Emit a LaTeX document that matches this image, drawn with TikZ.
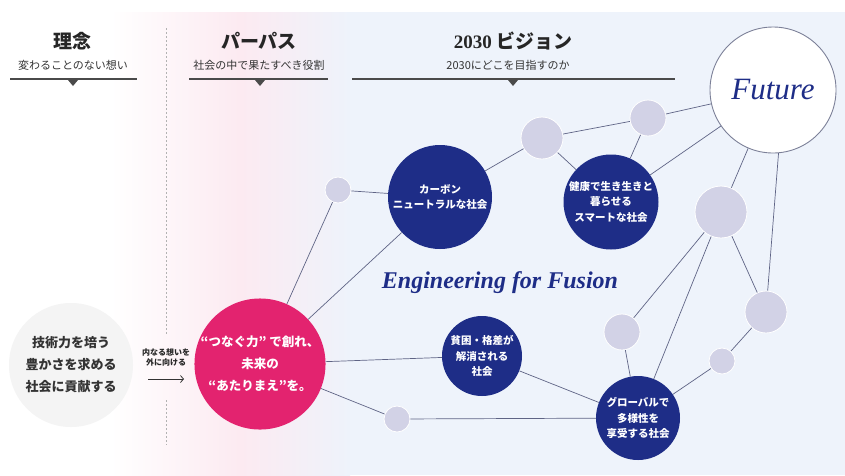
\documentclass[tikz,border=0pt]{standalone}
\usepackage{fontspec}
\setmainfont{Liberation Serif}
\newfontfamily\jp{Noto Sans CJK JP}
\usetikzlibrary{arrows.meta}
\definecolor{navy}{HTML}{1E2D87}
\definecolor{mag}{HTML}{E3236F}
\definecolor{lav}{HTML}{D2D2E6}
\definecolor{edge}{HTML}{5F6485}
\definecolor{bgblue}{HTML}{EEF3FB}
\definecolor{bgpink}{HTML}{FCEAF1}
\definecolor{hdr}{HTML}{4A4A4A}
\definecolor{futedge}{HTML}{7C8098}
\definecolor{lefty}{HTML}{F4F4F4}
\begin{document}
\begin{tikzpicture}[x=1pt,y=-1pt,
  link/.style={draw=edge, line width=0.7pt},
  dot/.style={circle, fill=lav, draw=white, line width=0.8pt, inner sep=0pt, minimum size=#1},
  goal/.style={circle, fill=navy, text=white, inner sep=0pt, minimum size=#1, align=center, font=\jp\bfseries\fontsize{10.5}{15.5}\selectfont},
  title/.style={font=\jp\bfseries\fontsize{19}{22}\selectfont, text=black!85},
  sub/.style={font=\jp\fontsize{11}{13}\selectfont, text=black!80},
  bar/.style={draw=hdr, line width=1.8pt},
  tri/.style={fill=hdr}
]
\useasboundingbox (0,0) rectangle (845,475);
% background
\fill[white] (0,0) rectangle (845,475);
\fill[bgblue] (350,12) rectangle (845,475);
\shade[left color=white, right color=bgpink] (110,12) rectangle (240,475);
\shade[left color=bgpink, right color=bgblue] (240,12) rectangle (350,475);
% dotted divider
\draw[black!30, line width=0.8pt, dash pattern=on 2pt off 2pt] (166,28) -- (166,335);
\draw[black!30, line width=0.8pt, dash pattern=on 2pt off 2pt] (166,400) -- (166,445);
% headers
\node[title] (t1) at (72,41) {理念};
\node[sub] (s1) at (73,65) {変わることのない想い};
\draw[bar] (10,79) -- (137,79);
\fill[tri] (68,80) -- (78,80) -- (73,86) -- cycle;
\node[title] (t2) at (259,41) {パーパス};
\node[sub] (s2) at (259,65) {社会の中で果たすべき役割};
\draw[bar] (189,79) -- (328,79);
\fill[tri] (255,80) -- (265,80) -- (260,86) -- cycle;
\node[title] (t3) at (513,41) {{\rmfamily\bfseries 2030} ビジョン};
\node[sub] (s3) at (508,65) {2030にどこを目指すのか};
\draw[bar] (352,79) -- (675,79);
\fill[tri] (508,80) -- (518,80) -- (513,86) -- cycle;
% left philosophy circle
\node[circle, fill=lefty, minimum size=124pt, inner sep=0pt, align=center, font=\jp\bfseries\fontsize{13}{22}\selectfont, text=black!80] (rinen) at (71,365) {技術力を培う\\豊かさを求める\\社会に貢献する};
% arrow
\node[align=center, font=\jp\bfseries\fontsize{8}{10}\selectfont, text=black!85] (arrtxt) at (166,357) {内なる想いを\\外に向ける};
\coordinate (arrS) at (148,379);
\coordinate (arrE) at (184,379);
\draw[-{Straight Barb[length=3pt,width=7pt]}, line width=0.8pt, black!80] (arrS) -- (arrE);
% purpose
\node[circle, fill=mag, text=white, minimum size=126pt, inner sep=0pt, align=center, font=\jp\bfseries\fontsize{12.5}{22}\selectfont] (pink) at (260,364) {“つなぐ力” で創れ、\\未来の\\“あたりまえ”を。};
% goals
\node[goal=104pt] (carbon) at (440,197) {カーボン\\ニュートラルな社会};
\node[goal=95pt] (health) at (611,202) {健康で生き生きと\\暮らせる\\スマートな社会};
\node[goal=80pt] (poverty) at (482,356) {貧困・格差が\\解消される\\社会};
\node[goal=84pt] (global) at (638,418) {グローバルで\\多様性を\\享受する社会};
% small dots
\node[dot=26pt] (a) at (338,190) {};
\node[dot=42pt] (b) at (542,138) {};
\node[dot=36pt] (c) at (648,118) {};
\node[dot=52pt] (d) at (721,212) {};
\node[dot=42pt] (e) at (766,312) {};
\node[dot=36pt] (f) at (622,332) {};
\node[dot=26pt] (g) at (722,361) {};
\node[dot=26pt] (h) at (397,419) {};
% future
\node[circle, draw=futedge, fill=white, line width=0.9pt, minimum size=126pt, inner sep=0pt, font=\itshape\fontsize{31}{31}\selectfont, text=navy] (future) at (773,90) {Future};
% tagline
\node[font=\bfseries\itshape\fontsize{24}{24}\selectfont, text=navy] (eff) at (500,283) {Engineering for Fusion};
% links
\draw[link] (pink) -- (a);
\draw[link] (pink) -- (carbon);
\draw[link] (pink) -- (poverty);
\draw[link] (pink) -- (h);
\draw[link] (h) -- (global);
\draw[link] (poverty) -- (global);
\draw[link] (a) -- (carbon);
\draw[link] (carbon) -- (b);
\draw[link] (b) -- (c);
\draw[link] (b) -- (health);
\draw[link] (c) -- (health);
\draw[link] (c) -- (future);
\draw[link] (health) -- (future);
\draw[link] (future) -- (d);
\draw[link] (future.-85) -- (e);
\draw[link] (d) -- (e);
\draw[link] (d) -- (f);
\draw[link] (d) -- (global);
\draw[link] (f) -- (global);
\draw[link] (global) -- (g);
\draw[link] (g) -- (e);
\end{tikzpicture}
\end{document}
